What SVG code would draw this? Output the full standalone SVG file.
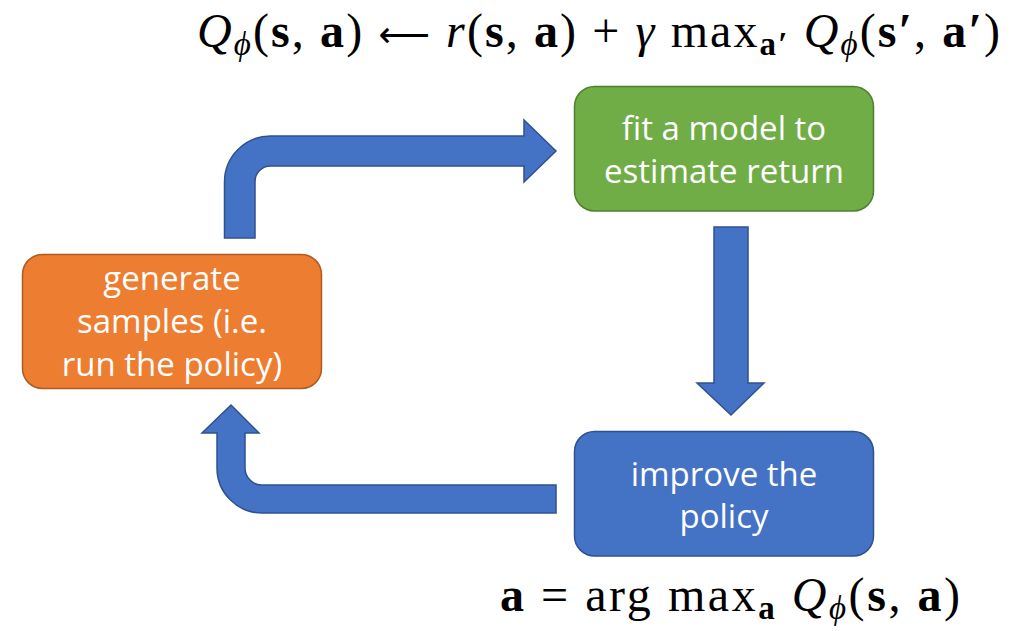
<svg xmlns="http://www.w3.org/2000/svg" width="1028" height="631" viewBox="0 0 1028 631">
<style>
.lbl{font-family:"Open Sans","Liberation Sans",sans-serif;font-size:33px;fill:#ffffff;text-anchor:middle}
.arr{fill:#4472C4;stroke:#2F528F;stroke-width:1.5;stroke-linejoin:miter}
.math{font-family:"Liberation Serif","DejaVu Serif",serif;font-size:48px;fill:#000}
.it{font-style:italic}
.b{font-weight:bold}
.sub{font-size:33px}
.sym{font-family:"DejaVu Sans",sans-serif;font-weight:normal;font-size:36px}
</style>
<rect width="1028" height="631" fill="#ffffff"/>
<g id="connectors">
<path class="arr" d="M224.5,238 L224.5,182 A46 46 0 0 1 270.5,136 L524,136 L524,120 L556,151 L524,182 L524,166 L270.5,166 A15.5 15.5 0 0 0 255,181.5 L255,238 Z"/>
<path class="arr" d="M714,227 L748,227 L748,383 L764,383 L731,415 L697,383 L714,383 Z"/>
<path class="arr" d="M556,485 L262,485 A17 17 0 0 1 245,468 L245,433 L259,433 L231,405 L202,433 L217,433 L217,468 A45 45 0 0 0 262,513 L556,513 Z"/>
</g>
<g id="fit">
<rect x="574.5" y="86.5" width="299" height="124.5" rx="20" fill="#70AD47" stroke="#507E32" stroke-width="1.5"/>
<text class="lbl" x="724" y="140">fit a model to</text>
<text class="lbl" x="724" y="183">estimate return</text>
</g>
<g id="generate">
<rect x="22.5" y="254.5" width="299" height="134" rx="20" fill="#ED7D31" stroke="#AE5A21" stroke-width="1.5"/>
<text class="lbl" x="172" y="290">generate</text>
<text class="lbl" x="172" y="333">samples (i.e.</text>
<text class="lbl" x="172" y="376">run the policy)</text>
</g>
<g id="improve">
<rect x="574.5" y="431.5" width="299" height="124.5" rx="20" fill="#4472C4" stroke="#2F528F" stroke-width="1.5"/>
<text class="lbl" x="724" y="486">improve the</text>
<text class="lbl" x="724" y="528">policy</text>
</g>
<g id="formula-top">
<text class="math" x="197" y="47" textLength="803" lengthAdjust="spacing"><tspan class="it">Q</tspan><tspan class="it sub" dy="8">ϕ</tspan><tspan dy="-8">(</tspan><tspan class="b">s</tspan>, <tspan class="b">a</tspan>) <tspan class="sym">⟵</tspan> <tspan class="it">r</tspan>(<tspan class="b">s</tspan>, <tspan class="b">a</tspan>) + <tspan class="it">γ</tspan> max<tspan class="b sub" dy="8">a′</tspan> <tspan class="it" dy="-8">Q</tspan><tspan class="it sub" dy="8">ϕ</tspan><tspan dy="-8">(</tspan><tspan class="b">s′</tspan>, <tspan class="b">a′</tspan>)</text>
</g>
<g id="formula-bottom">
<text class="math" x="500" y="611" textLength="460" lengthAdjust="spacing"><tspan class="b">a</tspan> = arg max<tspan class="b sub" dy="8">a</tspan> <tspan class="it" dy="-8">Q</tspan><tspan class="it sub" dy="8">ϕ</tspan><tspan dy="-8">(</tspan><tspan class="b">s</tspan>, <tspan class="b">a</tspan>)</text>
</g>
</svg>
